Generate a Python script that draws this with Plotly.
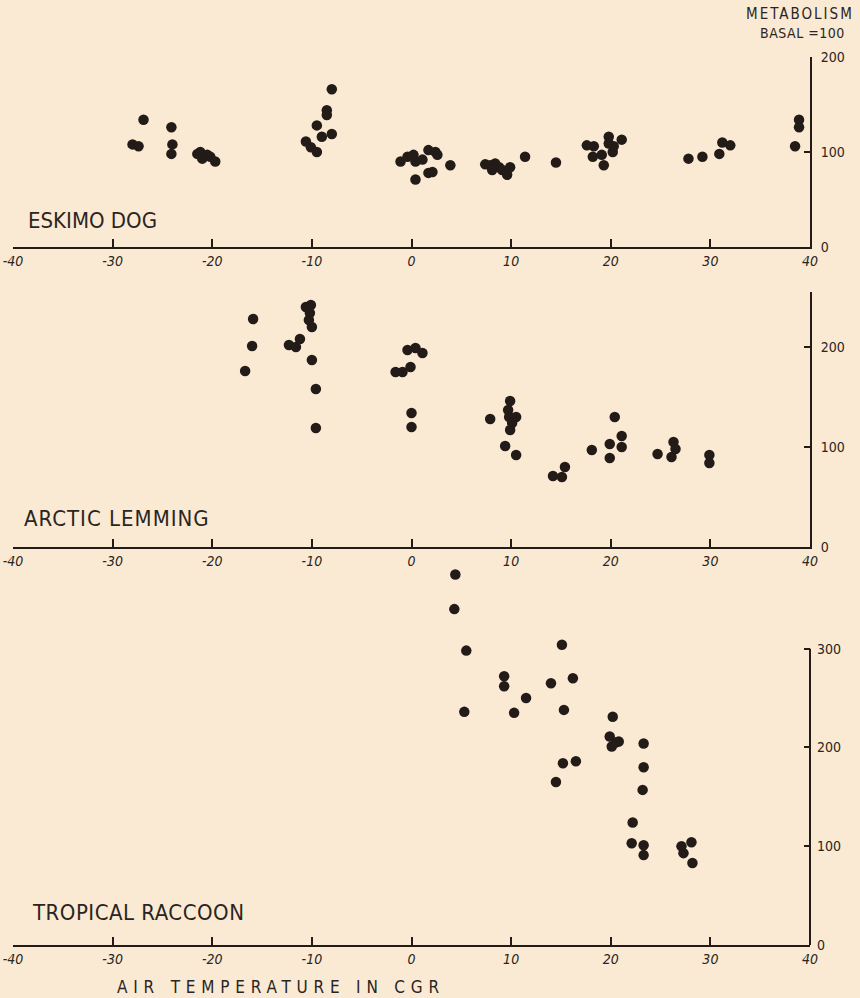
import plotly.graph_objects as go

# ---------------- data ----------------
dog_temp = [-28.0, -27.4, -26.9, -24.1, -24.0, -24.1, -21.5, -21.2, -21.0, -20.5, -20.2, -19.7,
            -10.6, -10.1, -9.5, -9.5, -9.0, -8.5, -8.5, -8.0, -8.0,
            -1.1, -0.4, 0.2, 0.4, 1.1, 0.4, 1.7, 1.7, 2.4, 2.6, 2.1, 3.9,
            7.4, 7.9, 8.4, 8.1, 8.8, 9.1, 9.6, 9.9, 11.4, 14.5,
            17.6, 18.3, 18.2, 19.3, 19.1, 19.8, 19.8, 20.2, 20.3, 21.1,
            27.8, 29.2, 30.9, 31.2, 32.0, 38.5, 38.9, 38.9]
dog_metab = [108, 106, 134, 126, 108, 98, 98, 100, 93, 97, 95, 90,
             111, 105, 100, 128, 116, 144, 139, 119, 166,
             90, 95, 97, 90, 92, 71, 102, 78, 100, 97, 79, 86,
             87, 86, 88, 81, 84, 81, 76, 84, 95, 89,
             107, 106, 95, 86, 97, 116, 109, 100, 106, 113,
             93, 95, 98, 110, 107, 106, 134, 126]

lemming_temp = [-16.7, -16.0, -15.9, -12.3, -11.6, -11.2, -10.6, -10.1, -10.2, -10.3, -10.0, -10.0,
                -9.6, -9.6, -1.6, -0.9, -0.1, -0.4, 0.4, 1.1, 0.0, 0.0,
                7.9, 9.9, 9.7, 9.8, 10.5, 10.1, 9.9, 9.4, 10.5,
                14.2, 15.1, 15.4, 18.1, 19.9, 19.9, 20.4, 21.1, 21.1,
                24.7, 26.3, 26.5, 26.1, 29.9, 29.9]
lemming_metab = [176, 201, 228, 202, 200, 208, 240, 242, 234, 227, 220, 187,
                 158, 119, 175, 175, 180, 197, 199, 194, 134, 120,
                 128, 146, 137, 130, 130, 124, 117, 101, 92,
                 71, 70, 80, 97, 103, 89, 130, 111, 100,
                 93, 105, 98, 90, 92, 84]

raccoon_temp = [4.4, 4.3, 5.5, 5.3, 9.3, 9.3, 11.5, 10.3, 14.0, 15.1, 16.2, 15.3, 15.2, 16.5, 14.5,
                20.2, 19.9, 20.1, 20.8, 20.5, 23.3, 23.3, 23.2, 22.2, 22.1, 23.3, 23.3,
                27.1, 27.3, 28.1, 28.2]
raccoon_metab = [375, 340, 298, 236, 272, 262, 250, 235, 265, 304, 270, 238, 184, 186, 165,
                 231, 211, 201, 206, 205, 204, 180, 157, 124, 103, 101, 91,
                 100, 93, 104, 83]

x_ticks = [-40, -30, -20, -10, 0, 10, 20, 30, 40]
x_tick_labels = ["-40", "-30", "-20", "-10", "0", "10", "20", "30", "40"]
species = ["ESKIMO DOG", "ARCTIC LEMMING", "TROPICAL RACCOON"]
y_ticks = [[0, 100, 200], [0, 100, 200], [0, 100, 200, 300]]
y_ranges = [[0, 200], [0, 255], [0, 380]]
y_line_top = [200, 255, 300]

# ---------------- styling ----------------
W, H = 860, 998
ML, MR = 13, 50
BG = "#fbead3"
INK = "#231b18"
FONT = "DejaVu Sans Condensed, Noto Sans, sans-serif"

# panel vertical extents in pixels (top, bottom)
panels_px = [(57, 247), (292, 547), (569.6, 945)]
label_y_px = [220, 518, 912]
label_x_px = [26, 22, 30]
label_spacing = ["0px", "1px", "0.5px"]


def spaced(text, px):
    return '<span style="letter-spacing:%s">%s</span>' % (px, text)


fig = go.Figure()
series = [(dog_temp, dog_metab), (lemming_temp, lemming_metab), (raccoon_temp, raccoon_metab)]
for i, (xs, ys) in enumerate(series):
    sfx = "" if i == 0 else str(i + 1)
    fig.add_trace(go.Scatter(
        x=xs, y=ys, mode="markers",
        marker=dict(size=10.5, color=INK, line=dict(width=0)),
        xaxis="x" + sfx, yaxis="y" + sfx, cliponaxis=False, showlegend=False,
        hoverinfo="x+y"))

layout = dict(
    width=W, height=H, paper_bgcolor=BG, plot_bgcolor=BG,
    margin=dict(l=ML, r=MR, t=0, b=0, pad=0),
    font=dict(family=FONT, color="#2a2522", size=13),
    showlegend=False,
)

shapes = []
annotations = []
for i in range(3):
    sfx = "" if i == 0 else str(i + 1)
    top, bot = panels_px[i]
    dom = [1 - bot / H, 1 - top / H]
    layout["xaxis" + sfx] = dict(
        domain=[0, 1], range=[-40, 40], anchor="y" + sfx,
        showline=True, linecolor=INK, linewidth=2,
        ticks="inside", ticklen=8, tickwidth=1.5, tickcolor=INK,
        tickvals=x_ticks, ticktext=x_tick_labels,
        tickfont=dict(size=14, family=FONT, style="italic"),
        showgrid=False, zeroline=False, automargin=False, fixedrange=True)
    layout["yaxis" + sfx] = dict(
        domain=dom, range=y_ranges[i], anchor="x" + sfx, side="right",
        showline=(i < 2), linecolor=INK, linewidth=2,
        ticks="inside", ticklen=6, tickwidth=1.5, tickcolor=INK,
        tickvals=y_ticks[i], ticklabelstandoff=6,
        tickfont=dict(size=14, family=FONT),
        showgrid=False, zeroline=False, automargin=False, fixedrange=True)
    if i == 2:
        shapes.append(dict(type="line", xref="x3 domain", yref="y3",
                           x0=1, x1=1, y0=0, y1=y_line_top[i],
                           line=dict(color=INK, width=2)))
    annotations.append(dict(
        text=spaced(species[i], label_spacing[i]), xref="paper", yref="paper",
        x=(label_x_px[i] - ML) / (W - ML - MR), y=1 - label_y_px[i] / H,
        xanchor="left", yanchor="middle", showarrow=False,
        font=dict(size=22, family=FONT, color="#2a2522")))

annotations += [
    dict(text=spaced("METABOLISM", "2px"), xref="paper", yref="paper",
         x=(856 - ML) / (W - ML - MR),
         y=1 - 14 / H, xanchor="right", yanchor="middle", showarrow=False,
         font=dict(size=15, family=FONT)),
    dict(text=spaced("BASAL =100", "0.5px"), xref="paper", yref="paper",
         x=(847 - ML) / (W - ML - MR),
         y=1 - 33 / H, xanchor="right", yanchor="middle", showarrow=False,
         font=dict(size=14, family=FONT)),
    dict(text=spaced("AIR TEMPERATURE IN CGR", "5.8px"), xref="paper", yref="paper",
         x=(115 - ML) / (W - ML - MR), y=1 - 987 / H, xanchor="left", yanchor="middle",
         showarrow=False, font=dict(size=17, family=FONT)),
]
layout["shapes"] = shapes
layout["annotations"] = annotations
fig.update_layout(**layout)
fig.write_html(
    "out.html",
    config={"displayModeBar": False},
    post_script="document.body.style.margin='0';document.body.style.background='%s';" % BG,
)
